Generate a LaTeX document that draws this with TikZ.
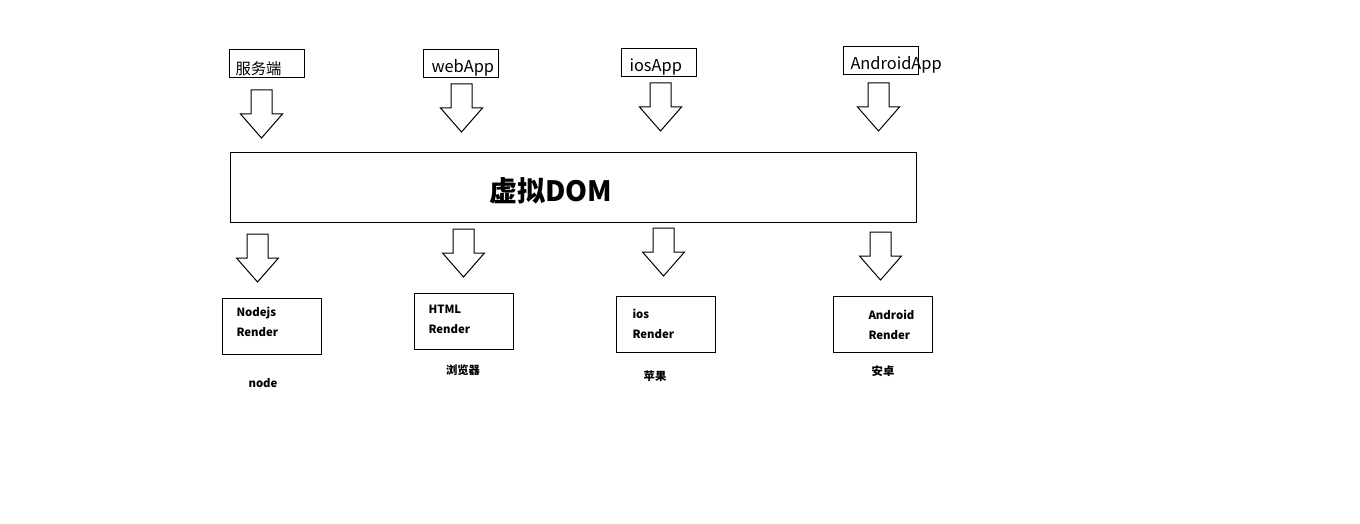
\documentclass[tikz,border=0pt]{standalone}
\usepackage{fontspec}
\setmainfont{Noto Sans CJK SC}
\usetikzlibrary{positioning}

\begin{document}
\begin{tikzpicture}[x=0.75pt, y=-0.75pt, line width=0.75pt]
    \tikzstyle{topbox} = [rectangle, draw, minimum width=56.25pt, minimum height=21pt, inner sep=0pt]
    \tikzstyle{toptext} = [anchor=base west, inner sep=0pt, font=\fontsize{12.3}{15}\selectfont]
    \tikzstyle{renderbox} = [rectangle, draw, minimum width=74.25pt, minimum height=42pt, inner sep=0pt]
    \tikzstyle{rendertext} = [anchor=west, inner sep=0pt, align=left, font=\bfseries\fontsize{8.5}{15}\selectfont]
    \tikzstyle{platform} = [inner sep=0pt, font=\bfseries\fontsize{8.5}{10}\selectfont]
    \tikzset{downarrow/.pic={
        \draw (-10.5,0) -- (10.5,0) -- (10.5,24) -- (21,24) -- (0,48) -- (-21,24) -- (-10.5,24) -- cycle;
    }}

    \useasboundingbox (0,0) rectangle (1360,524);

    % sources
    \node [topbox] (server) at (266.5,64) {};
    \node [topbox] (webapp) at (460.5,64) {};
    \node [topbox] (iosapp) at (658.5,63) {};
    \node [topbox] (androidapp) at (880.5,61) {};
    \node [toptext, font=\fontsize{11.5}{14}\selectfont] (servertext) at (235,75) {服务端};
    \node [toptext] (webapptext) at (431,73) {webApp};
    \node [toptext] (iosapptext) at (629,72) {iosApp};
    \node [toptext] (androidapptext) at (850,70) {AndroidApp};

    \pic (in1) at (261.5,90) {downarrow};
    \pic (in2) at (461.5,84) {downarrow};
    \pic (in3) at (660.5,83) {downarrow};
    \pic (in4) at (878.5,83) {downarrow};

    % virtual dom
    \node [rectangle, draw, minimum width=514.5pt, minimum height=51.75pt] (vdom) at (573,187.5) {};
    \node [font=\bfseries\fontsize{21}{25}\selectfont, inner sep=0pt] (vdomtext) at (550.5,191) {虚拟DOM};

    \pic (out1) at (257.5,234) {downarrow};
    \pic (out2) at (463.5,229) {downarrow};
    \pic (out3) at (663.5,228) {downarrow};
    \pic (out4) at (880.5,232) {downarrow};

    % renderers
    \node [renderbox] (noderender) at (271.5,326) {};
    \node [renderbox] (htmlrender) at (463.5,321) {};
    \node [renderbox] (iosrender) at (666,324) {};
    \node [renderbox] (androidrender) at (882.5,324) {};
    \node [rendertext] (nodetext) at (236,322) {Nodejs\\Render};
    \node [rendertext] (htmltext) at (428,319) {HTML\\Render};
    \node [rendertext] (iostext) at (632,324) {ios\\Render};
    \node [rendertext] (androidtext) at (868,325) {Android\\Render};

    \node [platform] (nodeplat) at (263,383) {node};
    \node [platform] (browserplat) at (463,370) {浏览器};
    \node [platform] (appleplat) at (655,376) {苹果};
    \node [platform] (androidplat) at (883,371) {安卓};
\end{tikzpicture}
\end{document}
